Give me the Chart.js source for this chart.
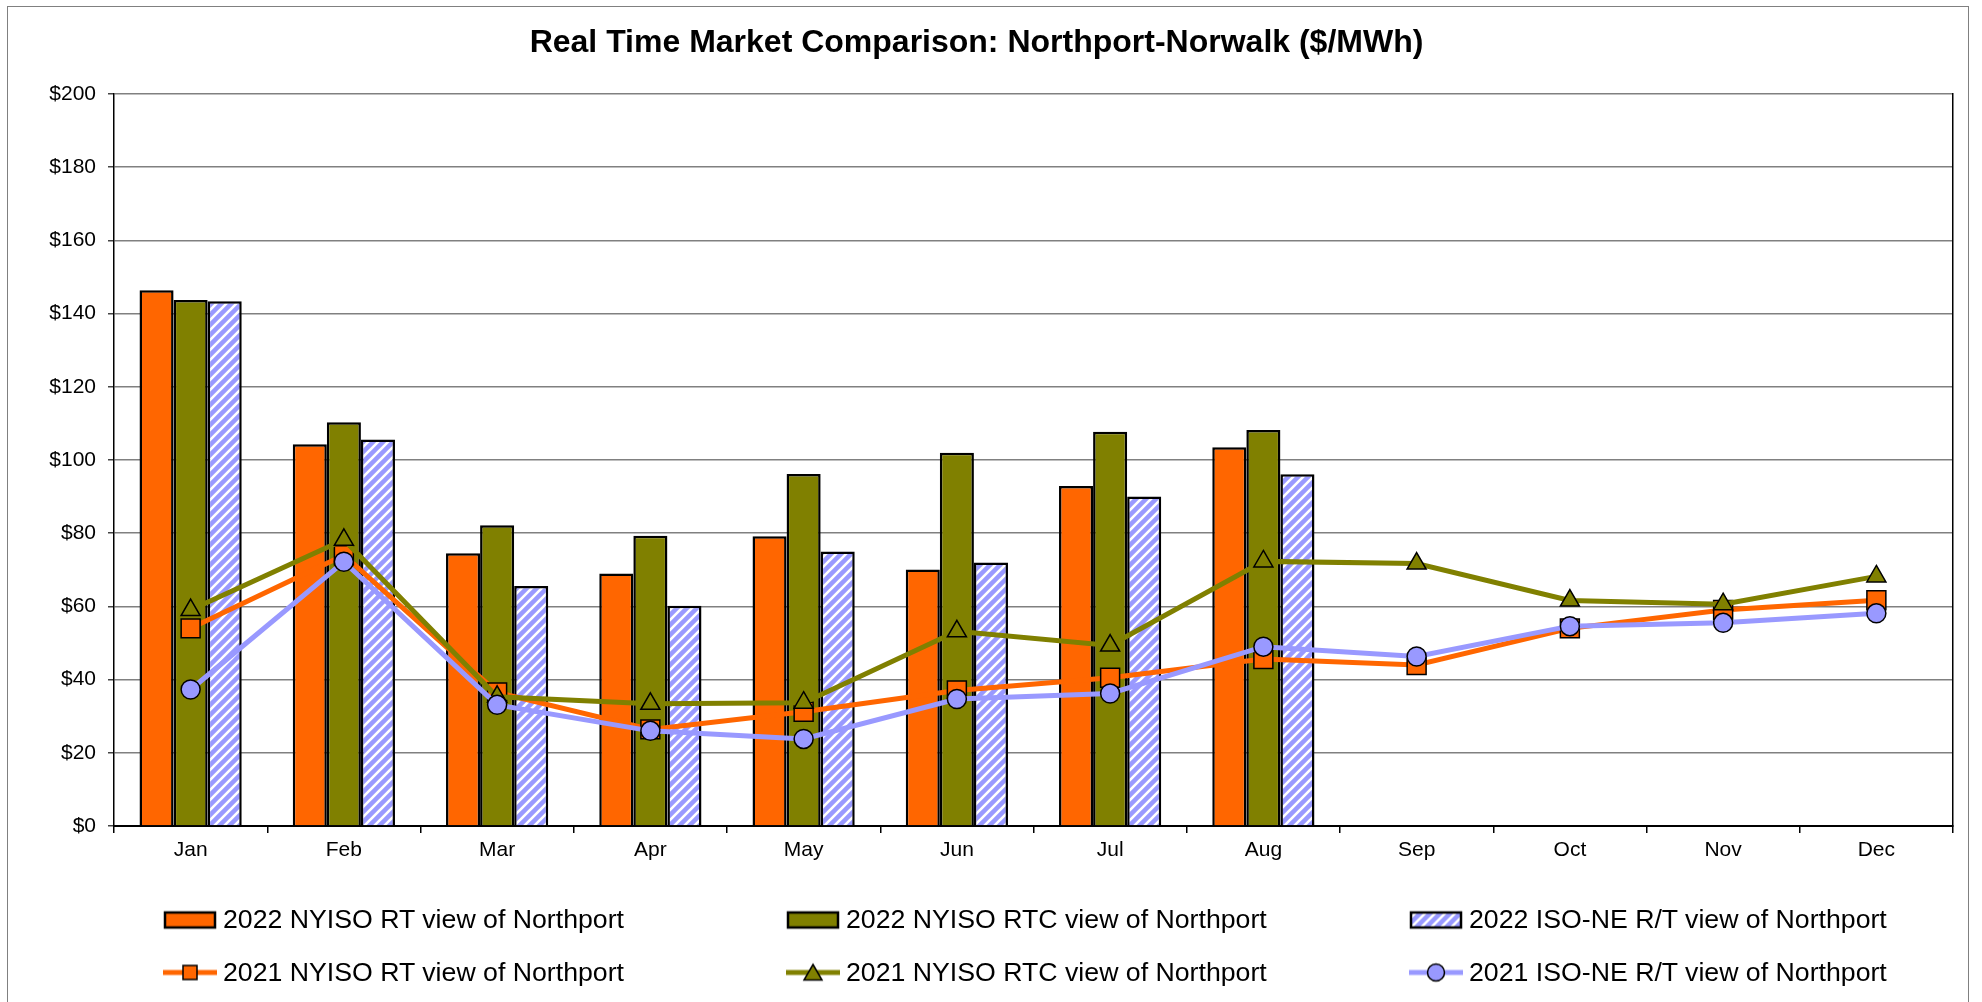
<!DOCTYPE html>
<html>
<head>
<meta charset="utf-8">
<script src="https://cdn.jsdelivr.net/npm/chart.js"></script>
<style>
  body { margin: 0; background: #fff; }
  #wrap { position: relative; width: 1982px; height: 1002px; overflow: hidden; }
  #frame { position: absolute; left: 7px; top: 6px; width: 1960px; height: 1100px; border: 1.5px solid #808080; }
  #chart-box { position: absolute; left: 0; top: 0; width: 1982px; height: 1002px; }
  .legend-item { position: absolute; display: flex; align-items: center; transform: translateY(-50%);
    font: 26.7px "Liberation Sans", Arial, sans-serif; color: #000; white-space: nowrap; }
  .legend-item canvas { margin-right: 6px; }
</style>
</head>
<body>
<div id="wrap">
  <div id="frame"></div>
  <div id="chart-box"><canvas id="myChart"></canvas></div>
  <div id="legend"></div>
</div>
<script>
const months = ["Jan", "Feb", "Mar", "Apr", "May", "Jun", "Jul", "Aug", "Sep", "Oct", "Nov", "Dec"];

// 2022 bars (only Jan-Aug)
const nyisoRt2022 = [146.4, 104.3, 74.5, 69.0, 79.2, 70.1, 92.9, 103.5, null, null, null, null];
const nyisoRtc2022 = [143.7, 110.3, 82.2, 79.3, 96.2, 102.0, 107.7, 108.2, null, null, null, null];
const isoNe2022 = [143.4, 105.6, 65.6, 60.2, 75.0, 72.0, 90.0, 96.1, null, null, null, null];

// 2021 lines
const nyisoRt2021 = [54.0, 74.0, 36.5, 26.4, 31.2, 37.0, 40.5, 45.6, 44.0, 54.0, 59.0, 61.7];
const nyisoRtc2021 = [59.0, 78.2, 35.3, 33.4, 33.7, 53.2, 49.3, 72.3, 71.7, 61.6, 60.6, 68.2];
const isoNe2021 = [37.3, 72.2, 33.1, 26.0, 23.8, 34.7, 36.2, 49.0, 46.3, 54.6, 55.5, 58.1];

const yTicks = [0, 20, 40, 60, 80, 100, 120, 140, 160, 180, 200];

const barLabels = ["2022 NYISO RT view of Northport", "2022 NYISO RTC view of Northport", "2022 ISO-NE R/T view of Northport"];
const lineLabels = ["2021 NYISO RT view of Northport", "2021 NYISO RTC view of Northport", "2021 ISO-NE R/T view of Northport"];

const ORANGE = "#FF6600";
const OLIVE = "#808000";
const LAVENDER = "#9999FF";

// diagonal white stripes on lavender
const makeHatch = () => {
    const n = 10;
    const c = document.createElement("canvas");
    c.width = n; c.height = n;
    const g = c.getContext("2d");
    g.fillStyle = LAVENDER;
    g.fillRect(0, 0, n, n);
    g.strokeStyle = "#fff";
    g.lineWidth = 2.6;
    g.beginPath();
    g.moveTo(-1, n + 1); g.lineTo(n + 1, -1);
    g.moveTo(-1, 1); g.lineTo(1, -1);
    g.moveTo(n - 1, n + 1); g.lineTo(n + 1, n - 1);
    g.stroke();
    return g.createPattern(c, "repeat");
};
const hatch = makeHatch();

const barFills = [ORANGE, OLIVE, hatch];
const barData = [nyisoRt2022, nyisoRtc2022, isoNe2022];
const lineColors = [ORANGE, OLIVE, LAVENDER];
const lineData = [nyisoRt2021, nyisoRtc2021, isoNe2021];
const pointStyles = ["rect", "triangle", "circle"];
const pointSizes = [13.4, 11, 9.5];

Chart.defaults.font.family = '"Liberation Sans", Arial, sans-serif';
Chart.defaults.color = "#000";

const datasets = [];
for (let i = 0; i < 3; i++) {
    datasets.push({
        type: "bar",
        label: barLabels[i],
        data: barData[i],
        backgroundColor: barFills[i],
        borderColor: "#000",
        borderWidth: 2.5,
        categoryPercentage: 0.667,
        barPercentage: 1.0,
        order: 10
    });
}
for (let i = 0; i < 3; i++) {
    datasets.push({
        type: "line",
        label: lineLabels[i],
        data: lineData[i],
        borderColor: lineColors[i],
        borderWidth: 5,
        pointStyle: pointStyles[i],
        pointRadius: pointSizes[i],
        pointBackgroundColor: lineColors[i],
        pointBorderColor: "#000",
        pointBorderWidth: 1.5,
        tension: 0,
        order: 3 - i
    });
}

const myChart = new Chart(document.getElementById("myChart"), {
    type: "bar",
    data: { labels: months, datasets: datasets },
    options: {
        responsive: true,
        maintainAspectRatio: false,
        animation: false,
        layout: { padding: { left: 0, right: 29, top: 0, bottom: 136 } },
        plugins: {
            legend: { display: false },
            tooltip: { enabled: false },
            title: {
                display: true,
                text: "Real Time Market Comparison: Northport-Norwalk ($/MWh)",
                font: { size: 32, weight: "bold" },
                color: "#000",
                padding: { top: 24, bottom: 31.6 }
            }
        },
        scales: {
            x: {
                grid: { offset: true, drawOnChartArea: false, drawTicks: true, tickLength: 7, color: "#000", lineWidth: 1.5 },
                border: { color: "#000", width: 2 },
                ticks: { font: { size: 21 }, color: "#000", padding: 5 },
                afterFit: (s) => { s.height = 40; }
            },
            y: {
                min: 0,
                max: 200,
                afterBuildTicks: (s) => { s.ticks = yTicks.map((v) => ({ value: v })); },
                ticks: { font: { size: 21 }, color: "#000", padding: 12, callback: (v) => "$" + v },
                grid: { color: "#808080", lineWidth: 1.5, tickLength: 6, tickColor: "#444" },
                border: { color: "#000", width: 1.5 },
                afterFit: (s) => { s.width = 114; }
            },
            y2: {
                position: "right",
                display: true,
                grid: { drawOnChartArea: false, drawTicks: false },
                ticks: { display: false },
                border: { color: "#000", width: 1.5 },
                afterFit: (s) => { s.width = 0; }
            }
        }
    }
});

// legend, 3 columns x 2 rows like the original
const legendDiv = document.getElementById("legend");
const colX = [163, 786, 1409];
const rowY = [919, 972];

const drawMarker = (c, kind, i) => {
    const g = c.getContext("2d");
    if (kind === "bar") {
        g.fillStyle = barFills[i];
        g.fillRect(2, 3, 50, 15);
        g.lineWidth = 2.5;
        g.strokeStyle = "#000";
        g.strokeRect(2, 3, 50, 15);
        return;
    }
    g.strokeStyle = lineColors[i];
    g.lineWidth = 5;
    g.beginPath();
    g.moveTo(0, 10); g.lineTo(54, 10);
    g.stroke();
    g.fillStyle = lineColors[i];
    g.strokeStyle = "#000";
    g.lineWidth = 1.5;
    g.beginPath();
    if (pointStyles[i] === "rect") g.rect(20, 3, 14, 14);
    else if (pointStyles[i] === "triangle") { g.moveTo(27, 2); g.lineTo(36, 17.5); g.lineTo(18, 17.5); g.closePath(); }
    else g.arc(27, 10, 8.5, 0, Math.PI * 2);
    g.fill();
    g.stroke();
};

[["bar", barLabels], ["line", lineLabels]].forEach(([kind, labels], r) => {
    labels.forEach((text, i) => {
        const item = document.createElement("div");
        item.className = "legend-item";
        item.style.left = colX[i] + "px";
        item.style.top = rowY[r] + "px";
        const c = document.createElement("canvas");
        c.width = 54; c.height = 20;
        drawMarker(c, kind, i);
        item.appendChild(c);
        const span = document.createElement("span");
        span.textContent = text;
        item.appendChild(span);
        legendDiv.appendChild(item);
    });
});
</script>
</body>
</html>
